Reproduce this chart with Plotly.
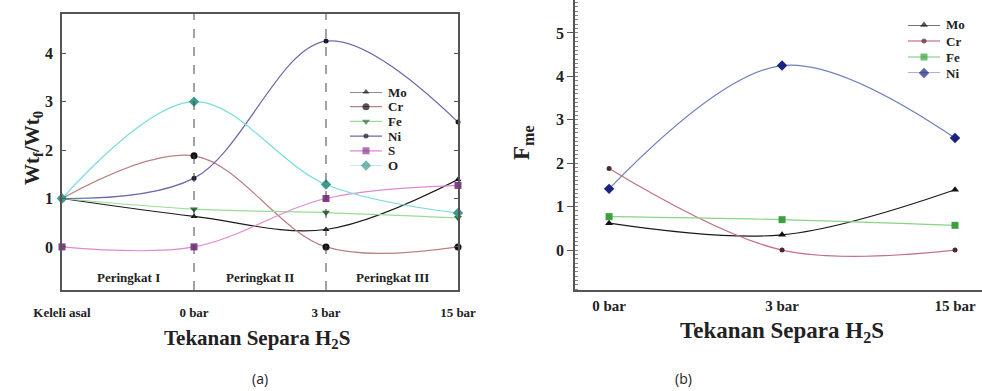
import plotly.graph_objects as go

W, H = 982, 391

# ---------------- data (a) ----------------
xa_labels = ["Keleli asal", "0 bar", "3 bar", "15 bar"]
xa = [0, 1, 2, 3]
a_mo = [1.0, 0.63, 0.36, 1.39]
a_cr = [1.0, 1.88, 0.0, 0.0]
a_fe = [1.0, 0.78, 0.71, 0.60]
a_ni = [1.0, 1.42, 4.25, 2.58]
a_s = [0.0, 0.0, 1.0, 1.27]
a_o = [1.0, 3.0, 1.29, 0.70]
stage_labels = ["Peringkat I", "Peringkat II", "Peringkat III"]
stage_pos = [0.5, 1.5, 2.5]
ya_ticks = [0, 1, 2, 3, 4]

# ---------------- data (b) ----------------
xb_labels = ["0 bar", "3 bar", "15 bar"]
xb = [0, 1, 2]
b_mo = [0.62, 0.35, 1.39]
b_cr = [1.88, 0.0, 0.0]
b_fe = [0.77, 0.70, 0.57]
b_ni = [1.41, 4.25, 2.58]
yb_ticks = [0, 1, 2, 3, 4, 5]

SERIF = "Times New Roman, Liberation Serif, serif"
INK = "#222222"

# styles: name, line colour, marker colour, symbol, marker size
style_a = [
    ("Mo", "#1a1a1a", "#111111", "triangle-up", 6),
    ("Cr", "#b88080", "#111111", "circle", 7),
    ("Fe", "#98dc98", "#2f6e40", "triangle-down", 7),
    ("Ni", "#6a6aa8", "#1a1a2a", "circle", 5),
    ("S", "#e088d0", "#8a3a8a", "square", 7),
    ("O", "#78dcdc", "#3a9a8e", "diamond", 8),
]
series_a = [a_mo, a_cr, a_fe, a_ni, a_s, a_o]
style_b = [
    ("Mo", "#1a1a1a", "#111111", "triangle-up", 7),
    ("Cr", "#c47080", "#4a2a30", "circle", 5),
    ("Fe", "#88d488", "#3aa040", "square", 7),
    ("Ni", "#7080b8", "#1a2380", "diamond", 8),
]
series_b = [b_mo, b_cr, b_fe, b_ni]

fig = go.Figure()


def add(x, y, st, xa_, ya_):
    name, lc, mc, sym, ms = st
    fig.add_trace(go.Scatter(
        x=x, y=y, name=name, mode="lines+markers", showlegend=False,
        line=dict(color=lc, width=1.2, shape="spline", smoothing=1),
        marker=dict(color=mc, symbol=sym, size=ms, line=dict(width=0)),
        xaxis=xa_, yaxis=ya_, cliponaxis=False))


def add_key(i, st, xa_, ya_, fsize):
    # one legend row drawn on a small helper axis
    name, lc, mc, sym, ms = st
    fig.add_trace(go.Scatter(
        x=[0, 0.5, 1], y=[i, i, i], mode="lines+markers", showlegend=False,
        line=dict(color=lc, width=1.2),
        marker=dict(color=mc, symbol=sym, size=[0, ms, 0], line=dict(width=0)),
        xaxis=xa_, yaxis=ya_, cliponaxis=False, hoverinfo="skip"))
    fig.add_annotation(x=1, y=i, xref=xa_, yref=ya_, text=name, showarrow=False,
                       xanchor="left", yanchor="middle", xshift=4,
                       font=dict(family=SERIF, size=fsize, color=INK, weight="bold"))


for y, st in zip(series_a, style_a):
    add(xa, y, st, "x", "y")
for y, st in zip(series_b, style_b):
    add(xb, y, st, "x2", "y2")
for i, st in enumerate(style_a):
    add_key(i, st, "x3", "y3", 13)
for i, st in enumerate(style_b):
    add_key(i, st, "x4", "y4", 13)

axis_line = "#555555"
tickfont_y = dict(family=SERIF, size=16, color=INK, weight="bold")
hidden = dict(visible=False, automargin=False, fixedrange=True)

fig.update_layout(
    width=W, height=H, margin=dict(l=0, r=0, t=0, b=0, autoexpand=False),
    paper_bgcolor="white", plot_bgcolor="white", showlegend=False,
    xaxis=dict(domain=[62 / W, 458 / W], range=[0, 3], anchor="y", automargin=False,
               tickvals=xa, ticktext=xa_labels,
               tickfont=dict(family=SERIF, size=13, color=INK, weight="bold"),
               ticklabelstandoff=10, ticks="", showline=True, mirror=True,
               linecolor=axis_line, linewidth=1.5, showgrid=False, zeroline=False),
    yaxis=dict(domain=[1 - 290 / H, 1 - 14 / H], range=[-0.89, 4.81], anchor="x",
               automargin=False, tickvals=ya_ticks, tickfont=tickfont_y,
               ticks="inside", ticklen=4, tickcolor=axis_line, showline=True,
               mirror="ticks", linecolor=axis_line, linewidth=1.5, showgrid=False,
               zeroline=False, ticklabelstandoff=4),
    xaxis2=dict(domain=[575 / W, 1.0], range=[-0.197, 2.156], anchor="y2", automargin=False,
                tickvals=xb, ticktext=xb_labels,
                tickfont=dict(family=SERIF, size=15, color=INK, weight="bold"),
                ticklabelstandoff=1, ticks="", showline=True, mirror=True,
                linecolor=axis_line, linewidth=1.5, showgrid=False, zeroline=False),
    yaxis2=dict(domain=[1 - 290 / H, 1.0], range=[-0.92, 5.76], anchor="x2",
                automargin=False, tickvals=yb_ticks, tickfont=tickfont_y,
                ticks="outside", ticklen=6, tickcolor=axis_line,
                minor=dict(ticks="inside", dtick=0.1, ticklen=3, tickcolor="#888"),
                showline=True, mirror=False, linecolor=axis_line, linewidth=1.5,
                showgrid=False, zeroline=False, ticklabelstandoff=0),
    xaxis3=dict(domain=[350 / W, 382 / W], range=[0, 1], anchor="y3", **hidden),
    yaxis3=dict(domain=[1 - 165.5 / H, 1 - 92 / H], range=[len(style_a) - 1, 0],
                anchor="x3", **hidden),
    xaxis4=dict(domain=[908 / W, 940 / W], range=[0, 1], anchor="y4", **hidden),
    yaxis4=dict(domain=[1 - 73 / H, 1 - 25 / H], range=[len(style_b) - 1, 0],
                anchor="x4", **hidden),
)

# stage separators
for xv in [1, 2]:
    fig.add_shape(type="line", xref="x", yref="y domain", x0=xv, x1=xv, y0=0, y1=1,
                  line=dict(color="#444", width=1, dash="dash"))

for lab, pos in zip(stage_labels, stage_pos):
    fig.add_annotation(x=pos, xref="x", y=1 - 277 / H, yref="paper", text=lab,
                       xanchor="center", yanchor="middle", showarrow=False,
                       font=dict(family=SERIF, size=13, color=INK, weight="bold"))


def label(xp, yp, text, font, angle=0):
    fig.add_annotation(x=xp / W, y=1 - yp / H, xref="paper", yref="paper", text=text,
                       textangle=angle, xanchor="center", yanchor="middle",
                       showarrow=False, font=font)


label(257, 339, "Tekanan Separa H<sub>2</sub>S",
      dict(family=SERIF, size=21, color=INK, weight="bold"))
label(782, 332, "Tekanan Separa H<sub>2</sub>S",
      dict(family=SERIF, size=23, color=INK, weight="bold"))
label(33, 148, "Wt<sub>f</sub>/Wt<sub>0</sub>",
      dict(family=SERIF, size=21, color=INK, weight="bold"), -90)
label(523, 143, "F<sub>me</sub>",
      dict(family=SERIF, size=23, color=INK, weight="bold"), -90)
label(260, 378, "(a)", dict(family="Open Sans", size=14, color=INK))
label(683, 378, "(b)", dict(family="Open Sans", size=14, color=INK))

fig.write_html("out.html", config={"displayModeBar": False},
               post_script="document.body.style.margin='0';")
